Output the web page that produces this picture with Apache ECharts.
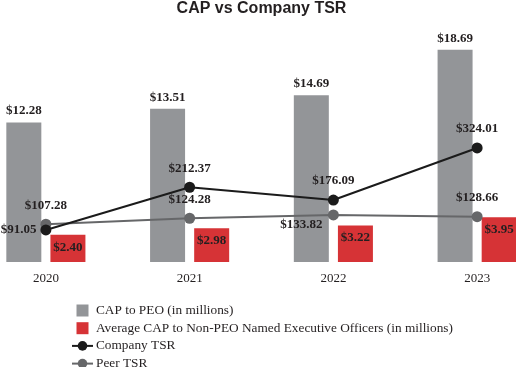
<!DOCTYPE html>
<html><head><meta charset="utf-8">
<script src="https://cdn.jsdelivr.net/npm/echarts@6/dist/echarts.min.js"></script>
<style>html,body{margin:0;padding:0;background:#fff;overflow:hidden;width:516px;height:367px}#c{position:absolute;left:-26px;top:0;width:575px;height:420px}</style>
</head><body><div id="c"></div>
<script>
var categories = ['2020', '2021', '2022', '2023'];
var capPeo = [12.28, 13.51, 14.69, 18.69];
var capNonPeo = [2.40, 2.98, 3.22, 3.95];
var companyTsr = [91.05, 212.37, 176.09, 324.01];
var peerTsr = [107.28, 124.28, 133.82, 128.66];

var serif = '"Liberation Serif", "Times New Roman", serif';
var txt = '#231f20';
function money(v) { return '$' + v.toFixed(2); }

var chart = echarts.init(document.getElementById('c'));
chart.setOption({
  animation: false,
  backgroundColor: '#fff',
  title: {
    text: 'CAP vs Company TSR', left: 'center', top: 1, padding: 0,
    textStyle: { fontFamily: '"Liberation Sans", Arial, sans-serif', fontWeight: 'bold', fontSize: 16, color: txt }
  },
  grid: { left: 0, right: 0, top: 35, bottom: 158, containLabel: false },
  legend: {
    orient: 'vertical', left: 97, top: 304, itemWidth: 21, itemHeight: 12, itemGap: 4.7, padding: 0,
    textStyle: { fontFamily: serif, fontSize: 13.3, color: txt, padding: [0, 0, 0, -2] },
    data: [
      { name: 'CAP to PEO (in millions)', icon: 'path://M0 0H10V10H0Z' },
      { name: 'Average CAP to Non-PEO Named Executive Officers (in millions)', icon: 'path://M0 0H10V10H0Z' },
      { name: 'Company TSR' },
      { name: 'Peer TSR' }
    ]
  },
  xAxis: {
    type: 'category', data: categories, boundaryGap: true,
    axisLine: { show: false }, axisTick: { show: false },
    axisLabel: { fontFamily: serif, fontSize: 13, color: txt, margin: 10 }
  },
  yAxis: [
    { type: 'value', min: 0, max: 20, show: false, splitLine: { show: false } },
    { type: 'value', min: 0, max: 645, show: false, splitLine: { show: false } }
  ],
  series: [
    {
      name: 'CAP to PEO (in millions)', type: 'bar', yAxisIndex: 0, data: capPeo,
      barWidth: 35, barGap: '26%', itemStyle: { color: '#939598' },
      label: { show: true, position: 'top', distance: 5, formatter: function (p) { return money(p.value); },
        fontFamily: serif, fontWeight: 'bold', fontSize: 13, color: txt }
    },
    {
      name: 'Average CAP to Non-PEO Named Executive Officers (in millions)', type: 'bar', yAxisIndex: 0, data: capNonPeo,
      barWidth: 35, barGap: '26%', itemStyle: { color: '#d63336' },
      label: { show: true, position: 'insideTop', distance: 6, formatter: function (p) { return money(p.value); },
        fontFamily: serif, fontWeight: 'bold', fontSize: 13, color: txt }
    },
    {
      name: 'Company TSR', type: 'line', yAxisIndex: 1, z: 4,
      data: companyTsr.map(function (v, i) {
        var d = { value: v };
        if (i === 0) d.label = { position: 'left', distance: 4 };
        return d;
      }),
      symbol: 'circle', symbolSize: 11,
      lineStyle: { color: '#1b1b1b', width: 2 }, itemStyle: { color: '#1b1b1b' },
      label: { show: true, position: 'top', distance: 7, formatter: function (p) { return money(p.value); },
        fontFamily: serif, fontWeight: 'bold', fontSize: 13, color: txt }
    },
    {
      name: 'Peer TSR', type: 'line', yAxisIndex: 1, z: 3,
      data: peerTsr.map(function (v, i) {
        var d = { value: v };
        if (i === 2) d.label = { position: 'bottom', distance: 0, offset: [-32, -2] };
        return d;
      }),
      symbol: 'circle', symbolSize: 11,
      lineStyle: { color: '#666769', width: 2 }, itemStyle: { color: '#666769' },
      label: { show: true, position: 'top', distance: 7, formatter: function (p) { return money(p.value); },
        fontFamily: serif, fontWeight: 'bold', fontSize: 13, color: txt }
    }
  ]
});
</script></body></html>
